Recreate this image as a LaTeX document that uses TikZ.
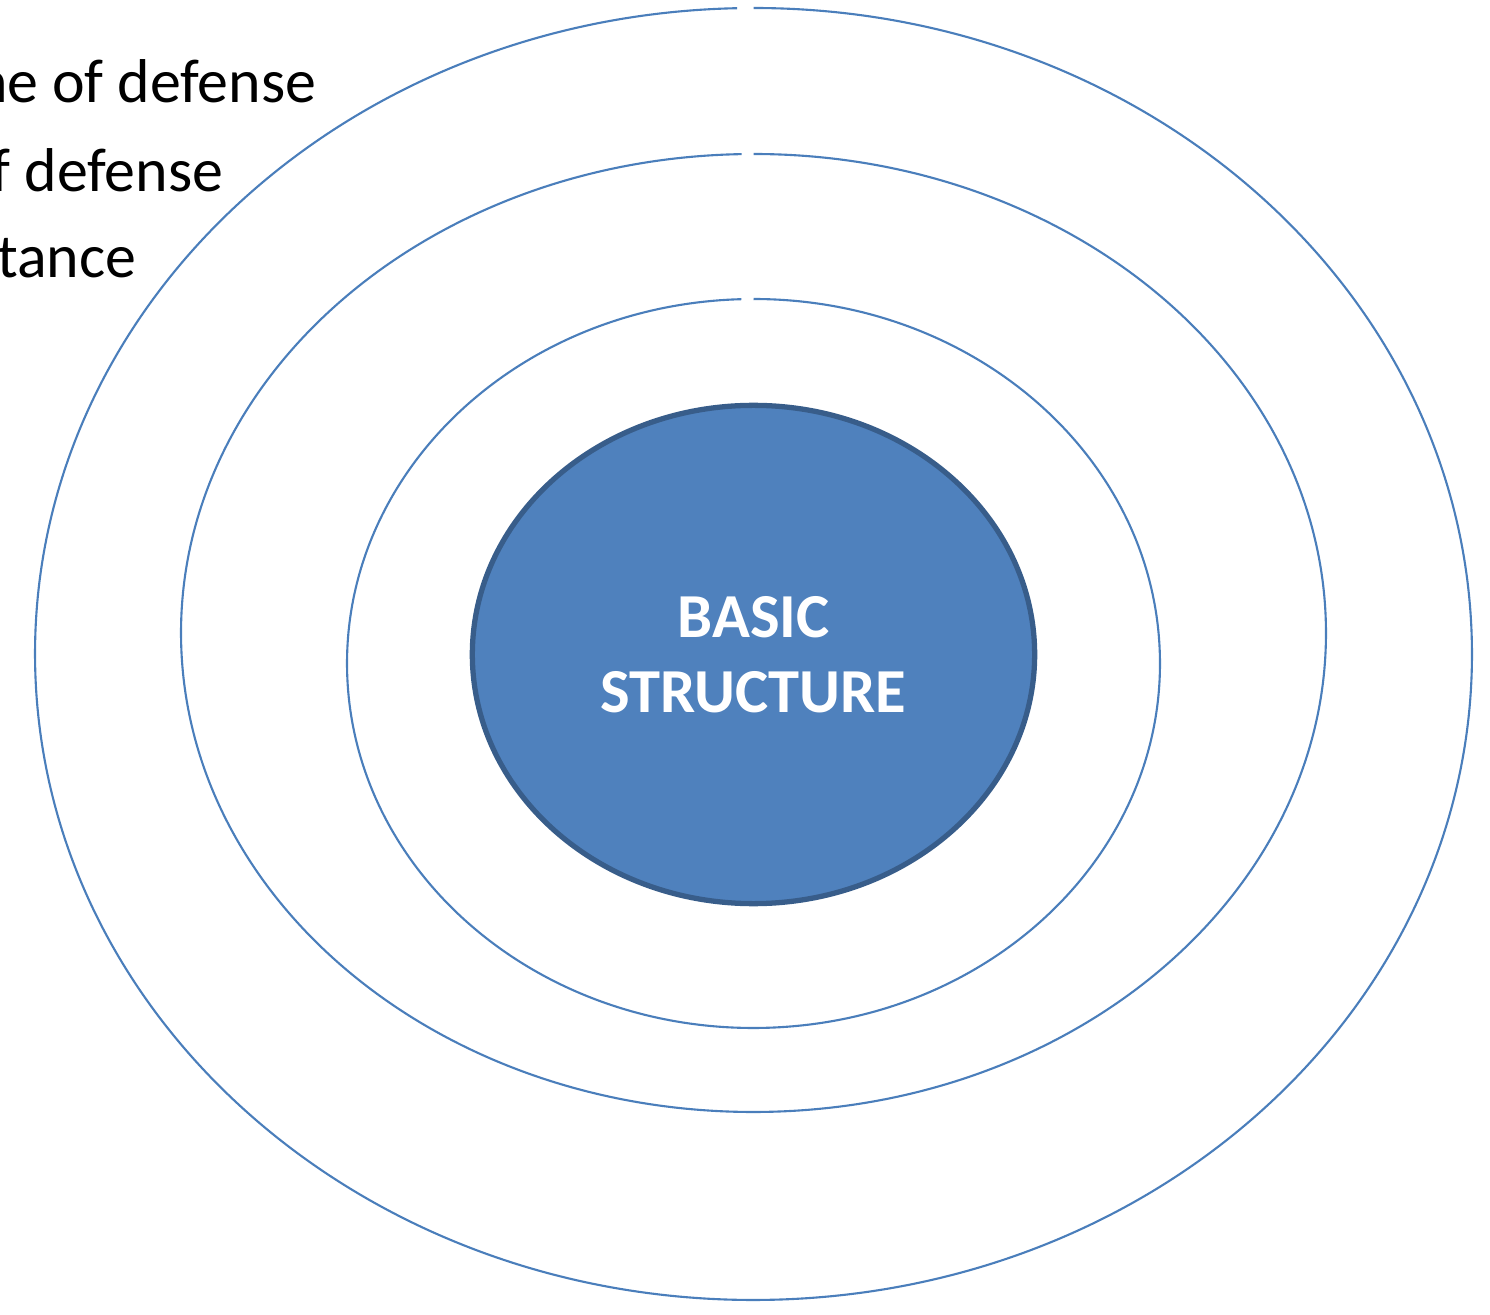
\documentclass[tikz,border=0pt]{standalone}
\usepackage{fontspec}
\setmainfont{Carlito}
\usepackage{tikz}
\usetikzlibrary{shapes.geometric,positioning}
\definecolor{ringblue}{HTML}{4A7EBB}
\definecolor{corefill}{HTML}{4F81BD}
\definecolor{coreline}{HTML}{385D8A}

\begin{document}
\begin{tikzpicture}[x=0.01cm,y=0.01cm,
  ring/.style={draw=ringblue,line width=0.6pt},
  core/.style={ellipse,draw=coreline,line width=1.5pt,fill=corefill,inner sep=0pt,
    minimum width=5.62cm,minimum height=4.98cm,align=center,text=white,
    font=\fontsize{17.8}{21.3}\selectfont\bfseries},
  ltxt/.style={anchor=base east,inner sep=0pt,font=\fontsize{17.6}{21}\selectfont}]

\useasboundingbox (0,0) rectangle (1490,1314);
\clip (0,0) rectangle (1490,1314);

% --- three open rings, each with a small gap at the top ---
\coordinate (c1) at (753.5,660);
\coordinate (c2) at (753.5,681);
\coordinate (c3) at (753.5,650.5);
\draw[ring] ([shift={(91.3:718.5 and 646)}]c1) arc[start angle=91.3,end angle=450,x radius=718.5,y radius=646];
\draw[ring] ([shift={(91.2:572.5 and 479)}]c2) arc[start angle=91.2,end angle=450,x radius=572.5,y radius=479];
\draw[ring] ([shift={(91.7:406.5 and 364.5)}]c3) arc[start angle=91.7,end angle=450,x radius=406.5,y radius=364.5];

% --- filled core ---
\node[core] (core) at (753.5,659.5) {BASIC\\STRUCTURE};

% --- labels, cut off at the left edge ---
\node[ltxt] (l1) at (317,1211) {ne of defense};
\node[ltxt] (l2) at (224,1122) {f defense};
\node[ltxt] (l3) at (137,1036) {tance};
\end{tikzpicture}
\end{document}
